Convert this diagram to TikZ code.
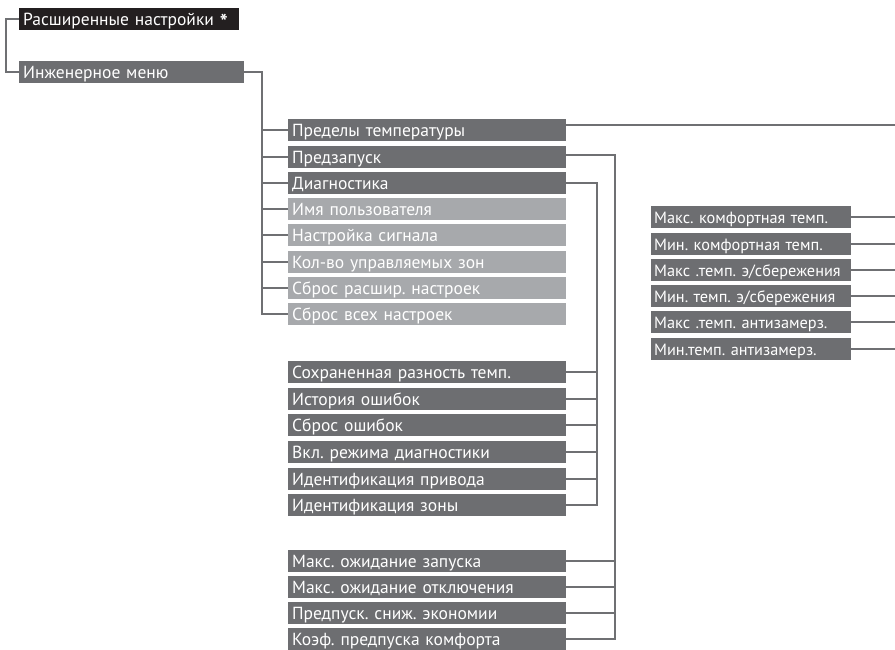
\documentclass[tikz,border=0pt]{standalone}
\usepackage{fontspec}
\setmainfont{PT Sans}
\frenchspacing
\definecolor{boxdark}{HTML}{6D6E71}
\definecolor{boxlight}{HTML}{A7A9AC}
\definecolor{boxblack}{HTML}{231F20}
\definecolor{linecol}{HTML}{6F7073}
\tikzset{
  item/.style={rectangle, anchor=north west, fill=boxdark, text=white,
    inner xsep=4pt, inner ysep=0pt, text height=17.5pt, text depth=4.5pt,
    align=left, font=\fontsize{17.5}{19}\selectfont},
  mid/.style={item, text width=270pt},
  midlight/.style={mid, fill=boxlight},
  rcol/.style={item, inner xsep=3pt, text width=194pt, font=\fontsize{16.3}{18}\selectfont},
  conn/.style={draw=linecol, line width=2pt, line join=miter}
}
\begin{document}
\begin{tikzpicture}[x=1pt,y=-1pt]
\useasboundingbox (0,0) rectangle (895,649);
% top level
\node[item, fill=boxblack, text width=212pt] (ras) at (19,8) {Расширенные настройки \raisebox{-4pt}{\fontsize{21}{21}\selectfont\bfseries*}};
\node[item, text width=217pt] (ing) at (19,60.5) {Инженерное меню};
% buses
\coordinate (bus1) at (262,0);
\coordinate (bus2) at (597,0);
\coordinate (bus3) at (615,0);
\coordinate (edge) at (895,0);
% middle column
\node[mid] (pt) at (288,119) {Пределы температуры};
\node[mid] (pz) at (288,145.3) {Предзапуск};
\node[mid] (dg) at (288,171.6) {Диагностика};
\node[midlight] (im) at (288,198) {Имя пользователя};
\node[midlight] (ns) at (288,224.2) {Настройка сигнала};
\node[midlight] (kv) at (288,250.5) {Кол-во управляемых зон};
\node[midlight] (sr) at (288,276.8) {Сброс расшир. настроек};
\node[midlight] (sv) at (288,303) {Сброс всех настроек};
% diagnostics
\node[mid] (d1) at (288,361) {Сохраненная разность темп.};
\node[mid] (d2) at (288,387.6) {История ошибок};
\node[mid] (d3) at (288,414.2) {Сброс ошибок};
\node[mid] (d4) at (288,440.8) {Вкл. режима диагностики};
\node[mid] (d5) at (288,467.4) {Идентификация привода};
\node[mid] (d6) at (288,494) {Идентификация зоны};
% prestart
\node[mid] (p1) at (288,549.5) {Макс. ожидание запуска};
\node[mid] (p2) at (288,575.8) {Макс. ожидание отключения};
\node[mid] (p3) at (288,602.1) {Предпуск. сниж. экономии};
\node[mid] (p4) at (288,627.5) {Коэф. предпуска комфорта};
% right column
\node[rcol] (r1) at (651,206) {\mbox{Макс. комфортная темп.}};
\node[rcol] (r2) at (651,232.3) {\mbox{Мин. комфортная темп.}};
\node[rcol] (r3) at (651,258.6) {\mbox{Макс .темп. э/сбережения}};
\node[rcol] (r4) at (651,284.9) {\mbox{Мин. темп. э/сбережения}};
\node[rcol] (r5) at (651,311.2) {\mbox{Макс .темп. антизамерз.}};
\node[rcol] (r6) at (651,337.5) {\mbox{Мин.темп. антизамерз.}};
% connectors
\draw[conn] (ras.west) -- ++(-13,0) |- (ing.west);
\draw[conn] (ing.east) -| (bus1 |- sv.west) -- (sv.west);
\foreach \n in {pt,pz,dg,im,ns,kv,sr}{
  \draw[conn] (\n.west) -- (\n.west -| bus1);
}
\draw[conn] ([yshift=5pt]pt.east) -- ([yshift=5pt]pt.east -| edge);
\draw[conn] ([yshift=2pt]pz.east) -| (bus3 |- p4.east) -- (p4.east);
\foreach \n in {p1,p2,p3}{
  \draw[conn] (\n.east) -- (\n.east -| bus3);
}
\draw[conn] (dg.east) -| (bus2 |- d6.east) -- (d6.east);
\foreach \n in {d1,d2,d3,d4,d5}{
  \draw[conn] (\n.east) -- (\n.east -| bus2);
}
\foreach \n in {r1,r2,r3,r4,r5,r6}{
  \draw[conn] (\n.east) -- (\n.east -| edge);
}
\end{tikzpicture}
\end{document}
